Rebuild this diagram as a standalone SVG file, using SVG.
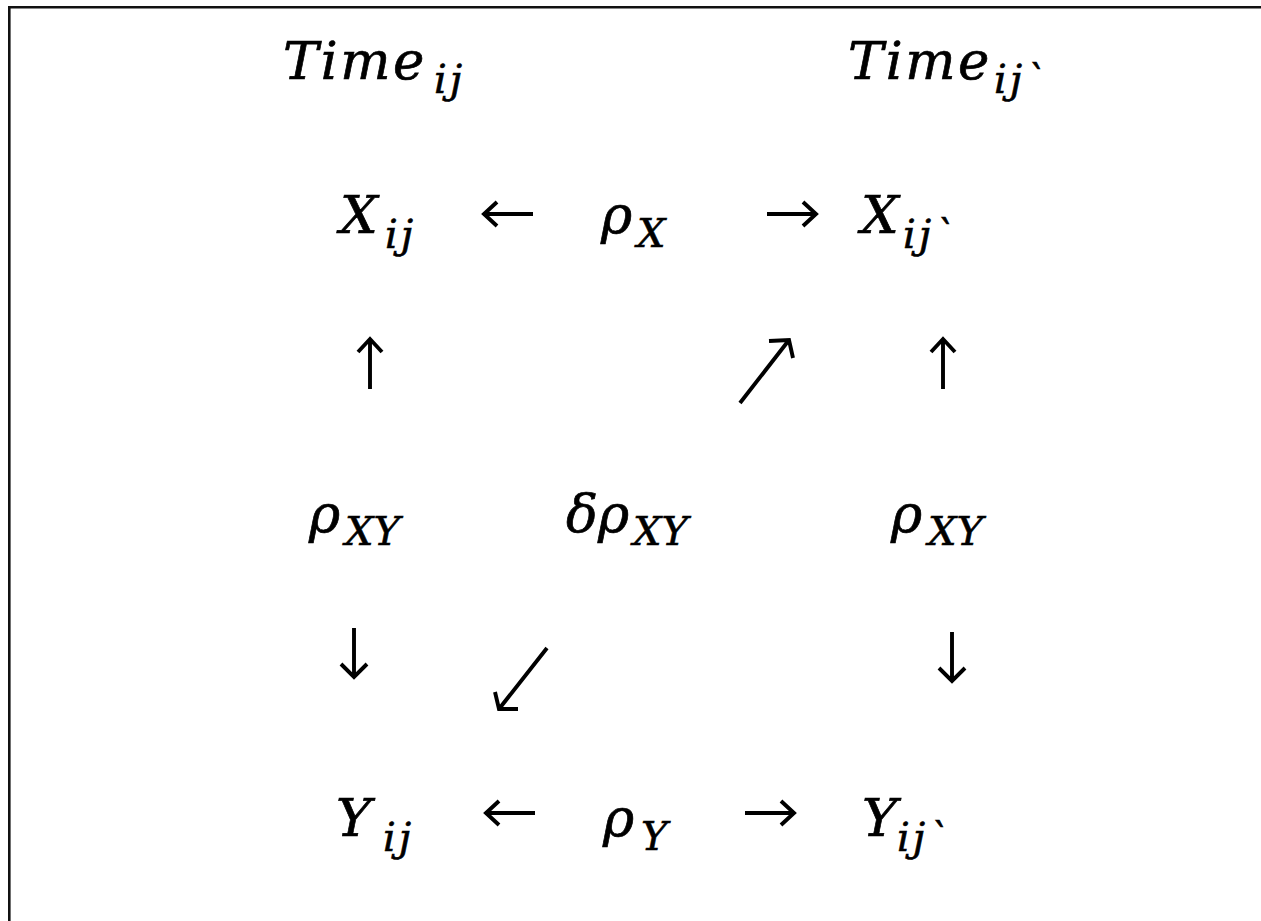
<svg xmlns="http://www.w3.org/2000/svg" width="1261" height="921" viewBox="0 0 1261 921">
<style>
.m{font-family:"DejaVu Serif","Liberation Serif",serif;font-style:italic;font-size:53px;fill:#000;stroke:#000;stroke-width:0.7}
.s{font-family:"DejaVu Serif","Liberation Serif",serif;font-style:italic;font-size:40px;fill:#000;stroke:#000;stroke-width:0.6}
.a{fill:none;stroke:#000;stroke-width:3.9;stroke-linecap:butt;stroke-linejoin:miter}
</style>
<rect width="1261" height="921" fill="#fff"/>
<path d="M9.3,921 V7.3 H1261" fill="none" stroke="#111" stroke-width="2.6"/>
<g id="time_ij"><text class="m" x="283" y="79" letter-spacing="2.5">Time</text><text class="s" x="434" y="93" letter-spacing="3">ij</text></g>
<g id="time_ij2"><text class="m" x="848" y="79" letter-spacing="2.5">Time</text><text class="s" x="994" y="93" letter-spacing="3">ij`</text></g>
<g id="x_ij"><text class="m" x="340" y="233">X</text><text class="s" x="385" y="248" letter-spacing="3">ij</text></g>
<g id="rho_x"><text class="m" x="601" y="233">ρ</text><text class="s" x="637" y="247">X</text></g>
<g id="x_ij2"><text class="m" x="861" y="233">X</text><text class="s" x="903" y="248" letter-spacing="3">ij`</text></g>
<g id="rho_xy_l"><text class="m" x="309" y="532">ρ</text><text class="s" x="345" y="545">XY</text></g>
<g id="delta_rho_xy"><text class="m" x="566" y="532">δρ</text><text class="s" x="633" y="545">XY</text></g>
<g id="rho_xy_r"><text class="m" x="891" y="532">ρ</text><text class="s" x="928" y="545">XY</text></g>
<g id="y_ij"><text class="m" x="336" y="836">Y</text><text class="s" x="383" y="851" letter-spacing="3">ij</text></g>
<g id="rho_y"><text class="m" x="603" y="836">ρ</text><text class="s" x="641" y="850">Y</text></g>
<g id="y_ij2"><text class="m" x="862" y="836">Y</text><text class="s" x="897" y="851" letter-spacing="3">ij`</text></g>
<g id="connectors">
<path class="a" d="M533,214 H484 M497,202 L484,214 L497,226"/>
<path class="a" d="M767,214 H816 M803,202 L816,214 L803,226"/>
<path class="a" d="M535,813 H486 M499,801 L486,813 L499,825"/>
<path class="a" d="M745,813 H794 M781,801 L794,813 L781,825"/>
<path class="a" d="M370,389 V339 M358,352 L370,339 L382,352"/>
<path class="a" d="M943,389 V339 M931,352 L943,339 L955,352"/>
<path class="a" d="M740,403 L789,340 M769,341 L789,340 L793,358"/>
<path class="a" d="M354,628 V677 M341,664 L354,677 L367,664"/>
<path class="a" d="M952,632 V681 M939,668 L952,681 L965,668"/>
<path class="a" d="M547,648 L499,709 M495,692 L499,709 L518,709"/>
</g>
</svg>
